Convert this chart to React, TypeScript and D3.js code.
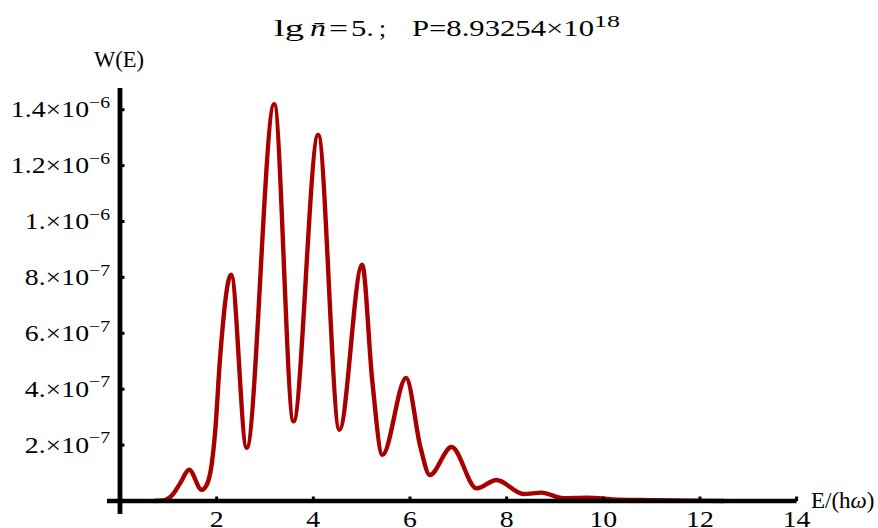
import { useMemo } from 'react'
import * as d3 from 'd3'

// energy E/(hω) and W(E) in units of 1e-7
const energy = [
  0.7, 0.9, 1.1, 1.25, 1.43, 1.69, 1.8, 1.89, 1.97, 2.07, 2.3, 2.62, 3.19, 3.59,
  4.1, 4.54, 5.01, 5.22, 5.43, 5.92, 6.22, 6.41, 6.86, 7.38, 7.79, 8.35, 8.72,
  9.17, 9.66, 10.3, 11.0, 11.8, 12.5,
]
const weight = [
  0, 0.02, 0.25, 0.65, 1.12, 0.4, 0.6, 1.23, 2.5, 5.1, 8.1, 1.9, 14.2, 2.85, 13.1,
  2.55, 8.45, 4.3, 1.65, 4.4, 1.9, 0.93, 1.93, 0.45, 0.75, 0.25, 0.3, 0.1,
  0.12, 0.05, 0.03, 0.01, 0,
]

const xTicks = [2, 4, 6, 8, 10, 12, 14]
const yTicks = [2e-7, 4e-7, 6e-7, 8e-7, 1e-6, 1.2e-6, 1.4e-6]
const yMantissa = ['2.', '4.', '6.', '8.', '1.', '1.2', '1.4']
const yExponent = ['\u22127', '\u22127', '\u22127', '\u22127', '\u22126', '\u22126', '\u22126']

// title pieces: text, left edge, width, italic
const titleParts: [string, number, number, boolean][] = [
  ['lg', 274, 30, false],
  ['n\u0304', 310, 16, true],
  ['=', 329, 19, false],
  ['5.', 351, 23, false],
  [';', 379, 7, false],
  ['P=8.93254×10', 412, 182, false],
]

const W = 878
const H = 528
const SX = 1.23 // tick labels come out wider than tall
const FONT = '"Liberation Serif", "Times New Roman", serif'
const FS = 22.6
const LINE = '#a80000'

const App = () => {
  const x = d3.scaleLinear().domain([0, 14]).range([120, 796.6])
  const y = d3.scaleLinear().domain([0, 1.4e-6]).range([501, 109.7])

  const path = useMemo(() => {
    const pts = energy.map((e, i) => [e, weight[i] * 1e-7] as [number, number])
    return d3
      .line<[number, number]>()
      .x((d) => x(d[0]))
      .y((d) => y(d[1]))
      .curve(d3.curveMonotoneX)(pts)
  }, [])

  const x0 = x(0)
  const y0 = y(0)

  return (
    <svg
      width={W}
      height={H}
      style={{ position: 'absolute', left: 0, top: 0, background: '#fff' }}
      fontFamily={FONT}
    >
      <path d={path ?? ''} fill="none" stroke={LINE} strokeWidth={4.4} strokeLinejoin="round" />

      {/* axes */}
      <line x1={107} x2={x(14)} y1={y0} y2={y0} stroke="#000" strokeWidth={4.6} />
      <line x1={x0} x2={x0} y1={88} y2={514} stroke="#000" strokeWidth={4.8} />
      {xTicks.map((t) => (
        <line key={t} x1={x(t)} x2={x(t)} y1={y0} y2={y0 - 4.5} stroke="#000" strokeWidth={3} />
      ))}
      {yTicks.map((t) => (
        <line key={t} x1={x0} x2={x0 + 4.5} y1={y(t)} y2={y(t)} stroke="#000" strokeWidth={3} />
      ))}

      {/* x tick labels */}
      {xTicks.map((t) => (
        <g key={t} transform={`translate(${x(t)},${526.8}) scale(${SX},1)`}>
          <text textAnchor="middle" fontSize={FS}>
            {t}
          </text>
        </g>
      ))}

      {/* y tick labels */}
      {yTicks.map((t, i) => (
        <g key={t} transform={`translate(110,${y(t) + 7.7}) scale(${SX},1)`}>
          <text textAnchor="end" fontSize={FS}>
            <tspan>{yMantissa[i]}</tspan>
            <tspan>×</tspan>
            <tspan>10</tspan>
            <tspan dy={-9.5} fontSize={16}>
              {yExponent[i]}
            </tspan>
          </text>
        </g>
      ))}

      {/* axis labels */}
      <text x={119} y={67} textAnchor="middle" fontSize={22.5}>
        W(E)
      </text>
      <text x={811} y={508} fontSize={23}>
        E/(h<tspan fontStyle="italic">ω</tspan>)
      </text>

      {/* title */}
      {titleParts.map(([s, left, w, it]) => (
        <text
          key={s}
          x={left}
          y={36}
          fontSize={23.5}
          fontStyle={it ? 'italic' : 'normal'}
          textLength={w}
          lengthAdjust="spacingAndGlyphs"
        >
          {s}
        </text>
      ))}
      <text x={594} y={27} fontSize={17} textLength={26} lengthAdjust="spacingAndGlyphs">
        18
      </text>
    </svg>
  )
}

export default App
